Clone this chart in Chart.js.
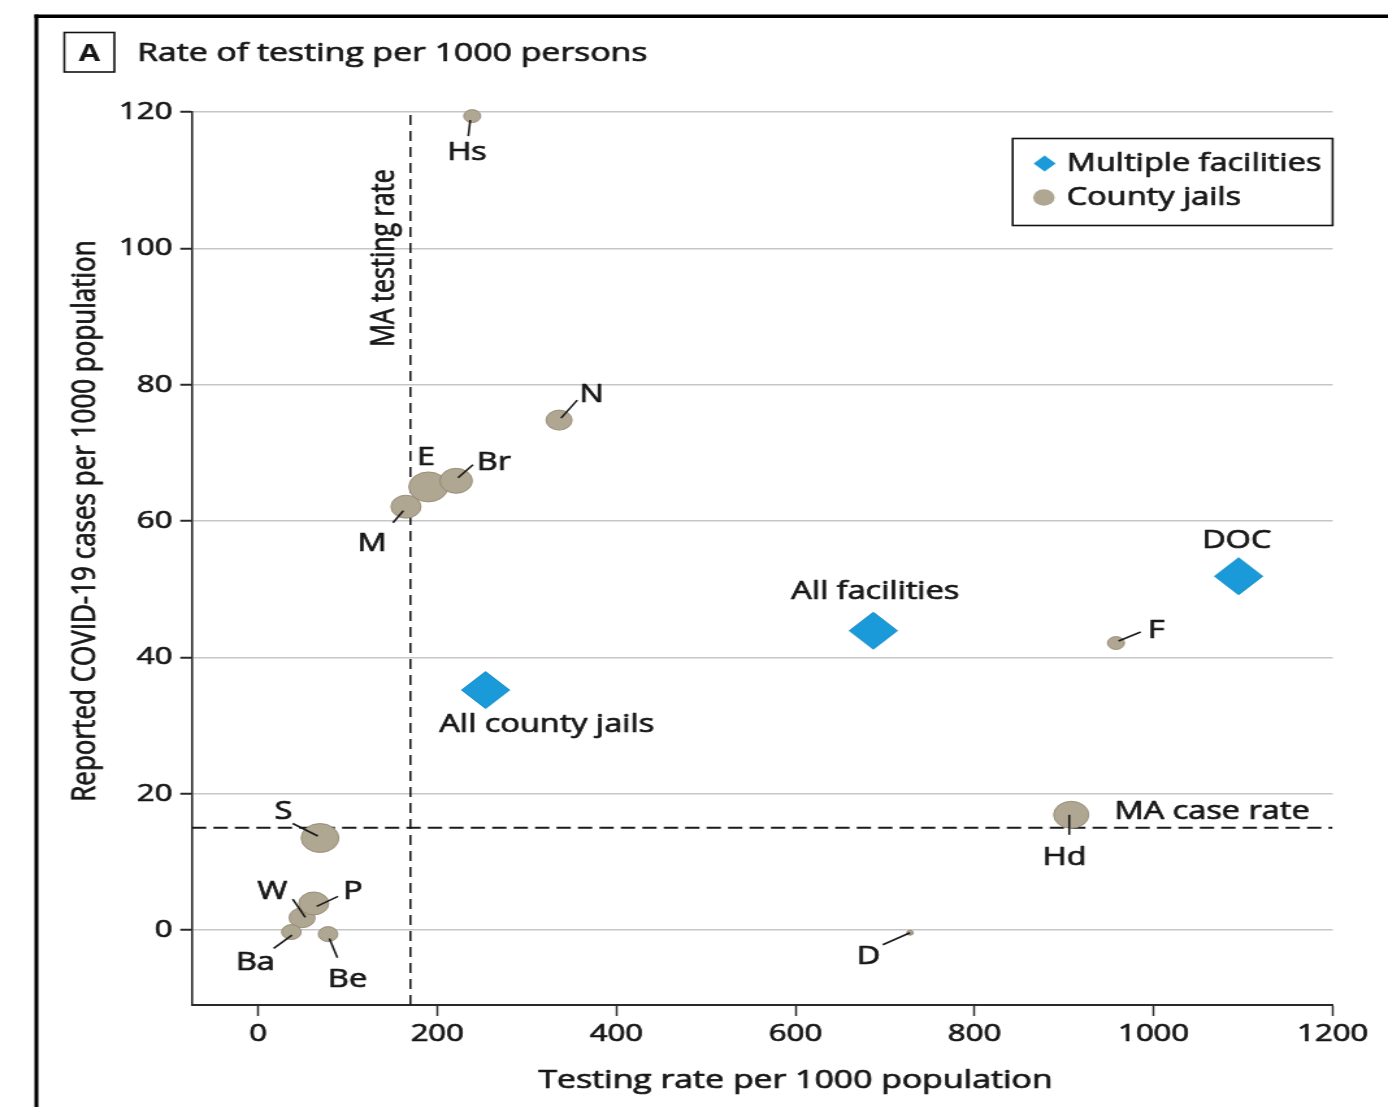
<!DOCTYPE html>
<html>
<head>
<meta charset="utf-8">
<title>Rate of testing per 1000 persons</title>
<script src="https://cdn.jsdelivr.net/npm/chart.js@4/dist/chart.umd.min.js"></script>
<style>
  html, body { margin: 0; padding: 0; background: #fff; overflow: hidden; }
</style>
</head>
<body>
<!-- the canvas bitmap is drawn narrower and widened on the page -->
<canvas id="c" width="1068" height="1107" style="display:block;width:1388px;height:1107px"></canvas>
<script>
// ---- data: county jails ----
const jailNames   = ['Hs', 'N', 'E', 'Br', 'M', 'S', 'W', 'P', 'Ba', 'Be', 'D', 'F', 'Hd'];
const jailTesting = [239, 336, 190, 221, 165, 69, 49, 62, 37, 78, 728, 958, 908];
const jailCases   = [119.4, 74.8, 65.0, 65.9, 62.1, 13.5, 1.8, 3.9, -0.3, -0.6, -0.4, 42.1, 16.9];
const jailSize    = [6.5, 10, 15, 12.5, 11.5, 14.5, 10, 11.5, 7.5, 7.5, 2.5, 6.5, 13.5];

// ---- data: aggregates over several facilities ----
const multiNames   = ['All county jails', 'All facilities', 'DOC'];
const multiTesting = [254, 687, 1095];
const multiCases   = [35.2, 43.9, 51.9];

// ---- statewide reference rates ----
const maTestingRate = 170;
const maCaseRate = 15;

// ---- axes ----
const xTickValues = [0, 200, 400, 600, 800, 1000, 1200];
const yTickValues = [0, 20, 40, 60, 80, 100, 120];
const xRange = [-74, 1200];
const yRange = [-11, 120];

// ---- look ----
const FONT = '"Open Sans", "Noto Sans", sans-serif';
const INK = '#161616';
const HEAVY = 0.7;            // extra stroke around glyphs for a slightly heavier text
const JAIL_FILL = '#b0a792';
const JAIL_EDGE = 'rgba(145,134,112,0.85)';
const MULTI_FILL = '#1a9ad8';
const MULTI_EDGE = '#148fcd';

// text placement around each point: t = label centre, l = leader line (px offsets)
const labelPlacement = {
  'Hs': { t: [-4, 37],  l: [[-1.5, 4], [-3, 20]] },
  'N':  { t: [25, -25], l: [[1.5, -2], [14, -20]] },
  'E':  { t: [-2, -29] },
  'Br': { t: [29, -18], l: [[1.5, -3], [13, -16]] },
  'M':  { t: [-26, 37], l: [[-2, 4], [-10, 16]] },
  'S':  { t: [-28, -26], l: [[-21, -14.5], [-1.7, -2]] },
  'W':  { t: [-23, -26], l: [[-7.2, -18.7], [2.5, -0.3]] },
  'P':  { t: [30, -12], l: [[2.3, 3], [18.7, -7]] },
  'Ba': { t: [-27.7, 31], l: [[-13.6, 16.3], [0.5, 3]] },
  'Be': { t: [15, 46], l: [[1, 4.3], [7.2, 23.7]] },
  'D':  { t: [-32, 24], l: [[-21, 12], [0, 0]] },
  'F':  { t: [31, -12], l: [[2, -2], [19, -11]] },
  'Hd': { t: [-5, 43], l: [[-1.5, 0], [-1.5, 20]] },
  'DOC':              { t: [-1.5, -35] },
  'All facilities':   { t: [1.5, -39] },
  'All county jails': { t: [47, 35] }
};

function heavyText(ctx, str, x, y) {
  ctx.save();
  ctx.lineWidth = HEAVY;
  ctx.strokeStyle = ctx.fillStyle;
  ctx.lineJoin = 'round';
  ctx.strokeText(str, x, y);
  ctx.restore();
  ctx.fillText(str, x, y);
}

const decor = {
  id: 'decor',
  beforeDraw(chart) {
    const ctx = chart.ctx;
    ctx.save();
    ctx.fillStyle = '#fff';
    ctx.fillRect(0, 0, chart.width, chart.height);
    // outer frame
    ctx.fillStyle = '#000';
    ctx.fillRect(26.5, 14.5, chart.width, 3.5);
    ctx.fillRect(26.5, 14.5, 3, chart.height);
    // panel letter and heading
    ctx.strokeStyle = '#111';
    ctx.lineWidth = 1.6;
    ctx.strokeRect(49.5, 32.5, 38.5, 39.5);
    ctx.fillStyle = INK;
    ctx.textBaseline = 'middle';
    ctx.textAlign = 'center';
    ctx.font = `700 24px ${FONT}`;
    ctx.fillText('A', 68.7, 54);
    ctx.textAlign = 'left';
    ctx.font = `26px ${FONT}`;
    heavyText(ctx, 'Rate of testing per 1000 persons', 105.4, 54);
    ctx.restore();
  },
  afterDatasetsDraw(chart) {
    const ctx = chart.ctx;
    const xs = chart.scales.x, ys = chart.scales.y;
    const area = chart.chartArea;
    ctx.save();
    ctx.fillStyle = INK;
    ctx.strokeStyle = '#1a1a1a';
    ctx.lineWidth = 1.6;
    ctx.textBaseline = 'middle';
    ctx.textAlign = 'center';
    ctx.font = `25px ${FONT}`;

    const annotate = (name, px, py) => {
      const p = labelPlacement[name];
      if (!p) return;
      if (p.l) {
        ctx.beginPath();
        ctx.moveTo(px + p.l[0][0], py + p.l[0][1]);
        ctx.lineTo(px + p.l[1][0], py + p.l[1][1]);
        ctx.stroke();
      }
      heavyText(ctx, name, px + p.t[0], py + p.t[1]);
    };
    jailNames.forEach((n, i) => annotate(n, xs.getPixelForValue(jailTesting[i]), ys.getPixelForValue(jailCases[i])));
    multiNames.forEach((n, i) => annotate(n, xs.getPixelForValue(multiTesting[i]), ys.getPixelForValue(multiCases[i])));

    // reference line captions
    const vx = xs.getPixelForValue(maTestingRate);
    ctx.save();
    ctx.translate(vx - 19.5, 258);
    ctx.rotate(-Math.PI / 2);
    heavyText(ctx, 'MA testing rate', 0, 0);
    ctx.restore();
    ctx.textAlign = 'right';
    heavyText(ctx, 'MA case rate', area.right - 17.7, ys.getPixelForValue(maCaseRate) - 16);

    // axis titles, centred on the 0-1200 and 0-120 spans
    ctx.textAlign = 'center';
    ctx.font = `26px ${FONT}`;
    heavyText(ctx, 'Testing rate per 1000 population',
      (xs.getPixelForValue(xTickValues[0]) + xs.getPixelForValue(xTickValues[xTickValues.length - 1])) / 2, 1081);
    ctx.save();
    ctx.translate(65.5, (ys.getPixelForValue(yTickValues[0]) + ys.getPixelForValue(yTickValues[yTickValues.length - 1])) / 2);
    ctx.rotate(-Math.PI / 2);
    heavyText(ctx, 'Reported COVID-19 cases per 1000 population', 0, 0);
    ctx.restore();

    // legend box
    const lx = 779.2, ly = 138.5, lw = area.right - lx, lh = 87;
    ctx.strokeStyle = '#111';
    ctx.lineWidth = 1.6;
    ctx.strokeRect(lx, ly, lw, lh);
    const items = chart.data.datasets.filter(d => d.type !== 'line');
    items.forEach((d, k) => {
      const cy = ly + 25 + k * 34;
      ctx.beginPath();
      if (d.pointStyle === 'rectRot') {
        ctx.moveTo(lx + 24.6 - 8.5, cy);
        ctx.lineTo(lx + 24.6, cy - 8);
        ctx.lineTo(lx + 24.6 + 8.5, cy);
        ctx.lineTo(lx + 24.6, cy + 8);
        ctx.closePath();
      } else {
        ctx.arc(lx + 24, cy, 8.3, 0, Math.PI * 2);
      }
      ctx.fillStyle = d.backgroundColor;
      ctx.fill();
      ctx.fillStyle = INK;
      ctx.textAlign = 'left';
      ctx.font = `25px ${FONT}`;
      heavyText(ctx, d.label, lx + 41.6, cy);
    });
    ctx.restore();
  }
};

const tickFont = { family: FONT, size: 24 };

new Chart(document.getElementById('c'), {
  type: 'bubble',
  data: {
    datasets: [
      {
        label: 'Multiple facilities',
        data: multiNames.map((n, i) => ({ x: multiTesting[i], y: multiCases[i], r: 18.5 })),
        pointStyle: 'rectRot',
        backgroundColor: MULTI_FILL,
        borderColor: MULTI_EDGE,
        borderWidth: 1,
        clip: false,
        order: 0
      },
      {
        label: 'County jails',
        data: jailNames.map((n, i) => ({ x: jailTesting[i], y: jailCases[i], r: jailSize[i] })),
        backgroundColor: JAIL_FILL,
        borderColor: JAIL_EDGE,
        borderWidth: 1,
        clip: false,
        order: 1
      },
      {
        type: 'line',
        label: 'MA testing rate',
        data: [{ x: maTestingRate, y: yRange[0] }, { x: maTestingRate, y: yRange[1] }],
        borderColor: '#1a1a1a',
        borderWidth: 1.6,
        borderDash: [10, 6],
        pointRadius: 0,
        fill: false,
        order: 3
      },
      {
        type: 'line',
        label: 'MA case rate',
        data: [{ x: xRange[0], y: maCaseRate }, { x: xRange[1], y: maCaseRate }],
        borderColor: '#1a1a1a',
        borderWidth: 2,
        borderDash: [11, 5.5],
        pointRadius: 0,
        fill: false,
        order: 3
      }
    ]
  },
  options: {
    responsive: false,
    animation: false,
    devicePixelRatio: 1,
    events: [],
    layout: { padding: { top: 112, right: 42.6, left: 0, bottom: 0 } },
    plugins: { legend: { display: false }, tooltip: { enabled: false } },
    scales: {
      x: {
        type: 'linear',
        min: xRange[0],
        max: xRange[1],
        afterBuildTicks: s => { s.ticks = xTickValues.map(v => ({ value: v })); },
        afterFit: s => { s.height = 102; },
        grid: { drawOnChartArea: false, drawTicks: true, tickLength: 11, tickColor: '#2a2a2a', tickWidth: 1.5 },
        border: { color: '#2a2a2a', width: 2 },
        ticks: { color: INK, font: tickFont, padding: 4, maxRotation: 0, autoSkip: false,
                 textStrokeColor: INK, textStrokeWidth: HEAVY, callback: v => String(v) }
      },
      y: {
        type: 'linear',
        min: yRange[0],
        max: yRange[1],
        afterBuildTicks: s => { s.ticks = yTickValues.map(v => ({ value: v })); },
        afterFit: s => { s.width = 147.7; },
        grid: { color: '#c6c6c6', lineWidth: 1.5, drawTicks: true, tickLength: 9, tickColor: '#2a2a2a', tickWidth: 2 },
        border: { color: '#2a2a2a', width: 1.6 },
        ticks: { color: INK, font: tickFont, padding: 6,
                 textStrokeColor: INK, textStrokeWidth: HEAVY, callback: v => String(v) }
      }
    }
  },
  plugins: [decor]
});
</script>
</body>
</html>
